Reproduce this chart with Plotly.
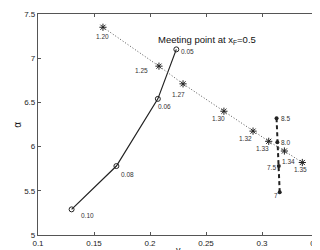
import plotly.graph_objects as go

# Solid series (circles), parameter labels
solid_labels = ["0.10", "0.08", "0.06", "0.05"]
solid_v = [0.130, 0.170, 0.207, 0.2235]
solid_a = [5.29, 5.78, 6.54, 7.10]

# Dotted series (stars)
dot_labels = ["1.20", "1.25", "1.27", "1.30", "1.32", "1.33", "1.34", "1.35"]
dot_v = [0.158, 0.208, 0.2295, 0.266, 0.292, 0.306, 0.320, 0.336]
dot_a = [7.35, 6.91, 6.71, 6.40, 6.175, 6.06, 5.95, 5.82]

# Dashed series (filled dots)
dash_labels = ["7", "7.5", "8.0", "8.5"]
dash_v = [0.3158, 0.315, 0.3137, 0.313]
dash_a = [5.485, 5.78, 6.05, 6.32]

x_ticks = [0.1, 0.15, 0.2, 0.25, 0.3, 0.35]
x_ticktext = ["0.1", "0.15", "0.2", "0.25", "0.3", "0.35"]
y_ticks = [5, 5.5, 6, 6.5, 7, 7.5]
y_ticktext = ["5", "5.5", "6", "6.5", "7", "7.5"]

line_col = "#222222"

fig = go.Figure()
fig.add_trace(go.Scatter(x=solid_v, y=solid_a, mode="lines+markers",
                         line=dict(color=line_col, width=1.2),
                         marker=dict(symbol="circle-open", size=5, color=line_col, line=dict(width=1))))
fig.add_trace(go.Scatter(x=dot_v, y=dot_a, mode="lines+markers",
                         line=dict(color="#555555", width=1, dash="1px,2px"),
                         marker=dict(symbol="asterisk-open", size=6, color=line_col, line=dict(width=1, color=line_col))))
fig.add_trace(go.Scatter(x=dash_v, y=dash_a, mode="lines+markers",
                         line=dict(color=line_col, width=2, dash="4px,3px"),
                         marker=dict(symbol="circle", size=4, color=line_col)))

font_lab = dict(family="Liberation Sans", size=6.5, color="#333333")
ann = []
solid_off = [(16, -6), (11, -8), (7, -8), (11, -2)]
for t, x, y, (dx, dy) in zip(solid_labels, solid_v, solid_a, solid_off):
    ann.append(dict(x=x, y=y, text=t, showarrow=False, xshift=dx, yshift=dy, font=font_lab))
dot_off = [(0, -9), (-17, -4), (-5, -11), (-5, -7), (-8, -7), (-6, -7), (4, -10), (-2, -7)]
for t, x, y, (dx, dy) in zip(dot_labels, dot_v, dot_a, dot_off):
    ann.append(dict(x=x, y=y, text=t, showarrow=False, xshift=dx, yshift=dy, font=font_lab))
dash_off = [(-4, -3), (-7, -1), (8, 0), (9, 0)]
for t, x, y, (dx, dy) in zip(dash_labels, dash_v, dash_a, dash_off):
    ann.append(dict(x=x, y=y, text=t, showarrow=False, xshift=dx, yshift=dy, font=font_lab))
ann.append(dict(xref="paper", yref="paper", x=0.784, y=0.918, text="Meeting point at x<sub>F</sub>=0.5",
                showarrow=False, font=dict(family="Liberation Sans", size=9.5, color="#111111")))
ann.append(dict(xref="paper", yref="paper", x=0.5, y=-0.07, yanchor="middle", text="v", borderpad=0,
                showarrow=False, font=dict(family="Liberation Sans", size=9, color="#111111")))
ann.append(dict(xref="paper", yref="paper", x=-0.074, y=0.5, xanchor="center", yanchor="middle", text="α",
                textangle=-90, showarrow=False, font=dict(family="Liberation Sans", size=10, color="#111111")))

axis_common = dict(showgrid=False, zeroline=False, showline=True, linecolor="#555555", linewidth=1.2,
                   mirror="ticks", ticks="inside", ticklen=3, tickcolor="#555555",
                   tickfont=dict(family="Liberation Sans", size=8, color="#222222"))
fig.update_layout(
    width=320, height=250,
    margin=dict(l=30, r=10, t=6, b=23),
    paper_bgcolor="white", plot_bgcolor="white",
    showlegend=False,
    annotations=ann,
    xaxis=dict(range=[0.1, 0.35], tickvals=x_ticks, ticktext=x_ticktext, automargin=False, **axis_common),
    yaxis=dict(range=[5, 7.5], tickvals=y_ticks, ticktext=y_ticktext, automargin=False, **axis_common),
)
fig.write_html("out.html")
